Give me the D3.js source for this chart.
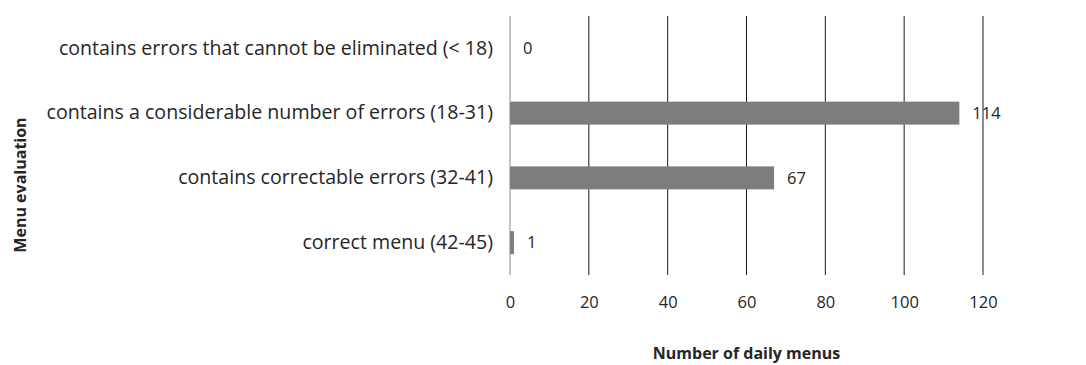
<!DOCTYPE html>
<html>
<head>
<meta charset="utf-8">
<script src="https://cdn.jsdelivr.net/npm/d3@7"></script>
<style>
  html, body { margin: 0; padding: 0; background: #fff; }
  svg { display: block; }
</style>
</head>
<body>
<svg id="chart" width="1086" height="365"></svg>
<script>
const categories = [
  "contains errors that cannot be eliminated (< 18)",
  "contains a considerable number of errors (18-31)",
  "contains correctable errors (32-41)",
  "correct menu (42-45)"
];
const values = [0, 114, 67, 1];
const xTicks = [0, 20, 40, 60, 80, 100, 120];
const xTitle = "Number of daily menus";
const yTitle = "Menu evaluation";

const svg = d3.select("#chart");
const font = "'Open Sans', sans-serif";
const textColor = "#262626";
const margin = { left: 510, right: 1086 - 983, top: 16, bottom: 365 - 275 };
const W = 1086, H = 365;

const x = d3.scaleLinear().domain([0, 120]).range([margin.left, W - margin.right]);
const y = d3.scaleBand().domain(categories).range([margin.top, H - margin.bottom]).paddingInner(0.645).paddingOuter(0.3225);

// gridlines
svg.append("g").selectAll("line").data(xTicks.slice(1)).join("line")
  .attr("x1", d => x(d)).attr("x2", d => x(d))
  .attr("y1", margin.top).attr("y2", H - margin.bottom)
  .attr("stroke", "#1a1a1a").attr("stroke-width", 1);

// bars
svg.append("g").selectAll("rect").data(values).join("rect")
  .attr("x", x(0))
  .attr("y", (d, i) => y(categories[i]))
  .attr("width", d => x(d) - x(0))
  .attr("height", y.bandwidth())
  .attr("fill", "#7d7d80");

// y axis line
svg.append("line")
  .attr("x1", x(0)).attr("x2", x(0))
  .attr("y1", margin.top).attr("y2", H - margin.bottom)
  .attr("stroke", "#8a8a8a").attr("stroke-width", 1);

// x axis tick labels
const xAxis = d3.axisBottom(x).tickValues(xTicks).tickSize(0).tickPadding(21);
const gx = svg.append("g").attr("transform", `translate(0,${H - margin.bottom})`).call(xAxis);
gx.select(".domain").remove();
gx.selectAll("text").attr("font-family", font).attr("font-size", 16.5).attr("fill", textColor);

// y axis labels
const yAxis = d3.axisLeft(y).tickSize(0).tickPadding(17);
const gy = svg.append("g").attr("transform", `translate(${x(0)},0)`).call(yAxis);
gy.select(".domain").remove();
gy.selectAll("text").attr("font-family", font).attr("font-size", 19.6).attr("fill", textColor);

// value labels
svg.append("g").selectAll("text").data(values).join("text")
  .attr("x", d => x(d) + 13)
  .attr("y", (d, i) => y(categories[i]) + y.bandwidth() / 2)
  .attr("dy", "0.35em")
  .attr("font-family", font).attr("font-size", 16.5).attr("fill", textColor)
  .text(d => d);

// axis titles
svg.append("text")
  .attr("x", (x(0) + x(120)) / 2).attr("y", 359)
  .attr("text-anchor", "middle")
  .attr("font-family", font).attr("font-size", 16).attr("font-weight", "bold").attr("fill", textColor)
  .text(xTitle);

svg.append("text")
  .attr("transform", `translate(26,185) rotate(-90)`)
  .attr("text-anchor", "middle")
  .attr("font-family", font).attr("font-size", 16).attr("font-weight", "bold").attr("fill", textColor)
  .text(yTitle);
</script>
</body>
</html>
